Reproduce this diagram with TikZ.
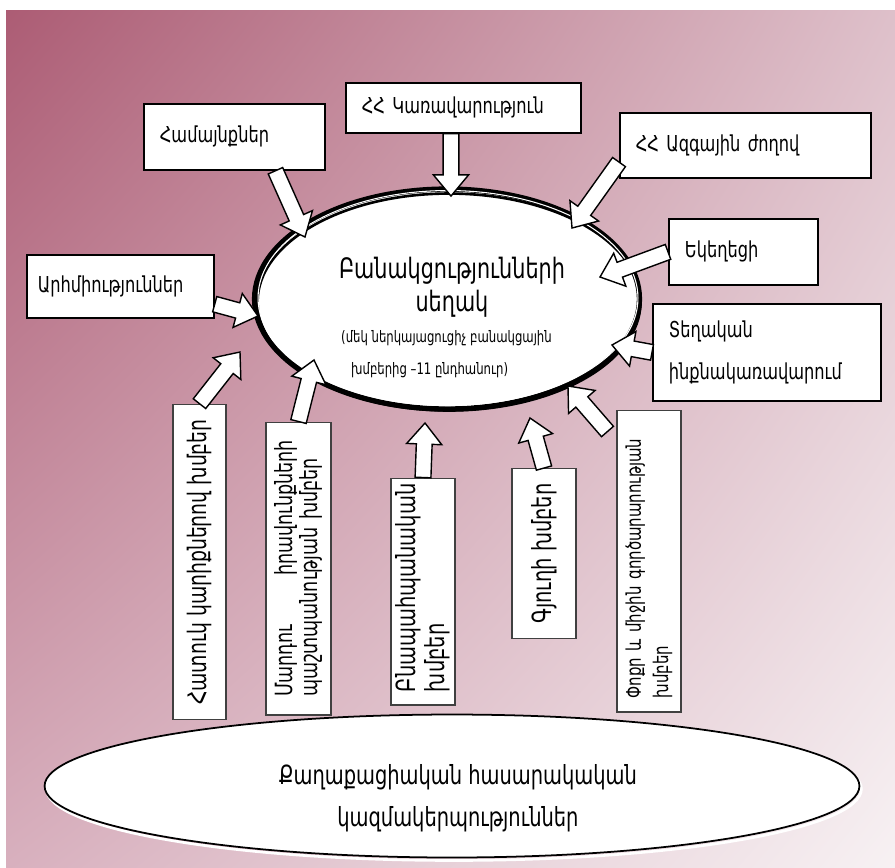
\documentclass[tikz,border=0pt]{standalone}
\usepackage{fontspec}
\setmainfont{DejaVu Sans Condensed}[FakeStretch=0.82]
\usetikzlibrary{shapes.geometric,calc,shadings}

\definecolor{bgtl}{RGB}{172,92,116}
\definecolor{bgtr}{RGB}{222,192,202}
\definecolor{bgbl}{RGB}{216,176,190}
\definecolor{bgbr}{RGB}{247,241,243}

\tikzset{
  hbox/.style={draw, fill=white, line width=1pt, anchor=north west, align=left,
    inner xsep=0.32cm, inner ysep=0pt, font=\fontsize{12.5}{24}\selectfont},
  vbox/.style={draw=black!75, fill=white, line width=0.6pt, rotate=90,
    inner xsep=0.3cm, inner ysep=0pt, font=\fontsize{14.5}{16}\selectfont},
  arrowbody/.style={draw, fill=white, line width=0.8pt, line join=miter},
}
% white block arrow from #1 to #2
\newcommand\blockarrow[2]{%
  \coordinate (ah) at ($(#2)!12pt!(#1)$);
  \path[arrowbody] ($(#1)!4.5pt!90:(#2)$) -- ($(ah)!4.5pt!90:(#2)$)
    -- ($(ah)!10pt!90:(#2)$) -- (#2) -- ($(ah)!10pt!-90:(#2)$)
    -- ($(ah)!4.5pt!-90:(#2)$) -- ($(#1)!4.5pt!-90:(#2)$) -- cycle;}

\begin{document}
\begin{tikzpicture}[x=0.02cm, y=-0.02cm]
  \useasboundingbox (0,0) rectangle (895,867);
  \fill[white] (0,0) rectangle (895,867);
  \shade[upper left=bgtl, upper right=bgtr, lower left=bgbl, lower right=bgbr]
    (6,10) rectangle (895,867);

  % civil society
  \draw[white, line width=1.5pt] (454,789) ellipse [x radius=8.15cm, y radius=1.43cm];
  \node[ellipse, draw, fill=white, line width=1pt, minimum width=16.3cm,
    minimum height=2.86cm] (civil) at (452,786) {};
  \node[font=\fontsize{15}{24}\selectfont, align=center] (civtext) at (458,798)
    {Քաղաքացիական հասարակական\\կազմակերպություններ};

  % negotiation table
  \node[ellipse, fill=white, draw, line width=3pt, minimum width=7.7cm,
    minimum height=4.4cm] (negtable) at (447,299) {};
  \draw[line width=1.5pt] ([shift={(2,3)}]negtable.center)
    ellipse [x radius=3.83cm, y radius=2.17cm];
  \draw[white, line width=0.6pt] ([shift={(1,-1)}]negtable.center)
    ellipse [x radius=3.8cm, y radius=2.15cm];
  \node[font=\fontsize{16}{19}\selectfont, align=center] (title) at (452,287)
    {Բանակցությունների\\սեղակ};
  \node[font=\fontsize{9}{11}\selectfont, anchor=west] (sub1) at (335,338)
    {(մեկ ներկայացուցիչ բանակցային};
  \node[font=\fontsize{9}{11}\selectfont, anchor=west] (sub2) at (345,370)
    {խմբերից –11 ընդհանուր)};

  % upper boxes
  \node[hbox, text width=2.98cm, minimum height=1.32cm] (hamaynk) at (143,103) {Համայնքներ};
  \node[hbox, text width=4.06cm, minimum height=1.0cm] (kar) at (345,82) {ՀՀ Կառավարություն};
  \node[hbox, text width=4.38cm, minimum height=1.3cm] (azg) at (619,112) {ՀՀ Ազգային ժողով};
  \node[hbox, text width=3.30cm, inner xsep=0.22cm, minimum height=1.26cm] (arh) at (26,254) {Արհմիություններ};
  \node[hbox, text width=2.34cm, minimum height=1.32cm] (ekeg) at (668,218) {Եկեղեցի};
  \node[hbox, text width=3.92cm, minimum height=1.94cm] (teg) at (652,303)
    {Տեղական\\ինքնակառավարում};

  % lower boxes
  \node[vbox, align=center, minimum width=6.04cm, minimum height=1.06cm] (vbA)
    at (199.5,562) {Հատուկ կարիքներով խմբեր};
  \node[vbox, align=left, text width=5.14cm, inner xsep=0.36cm, minimum width=5.86cm,
    minimum height=1.3cm, font=\fontsize{13.5}{10.5}\selectfont] (vbB)
    at (298.5,568.5) {Մարդու\hfill իրավունքների\\պաշտպանության խմբեր};
  \node[vbox, align=left, text width=4.02cm, inner xsep=0.26cm, minimum width=4.54cm,
    minimum height=1.28cm, font=\fontsize{15}{16.5}\selectfont] (vbC)
    at (423,591.5) {Բնապահպանական\\խմբեր};
  \node[vbox, align=center, minimum width=3.02cm, minimum height=1.28cm,
    font=\fontsize{15}{16}\selectfont] (vbD) at (544,553.5) {Գյուղի խմբեր};
  \node[vbox, align=left, text width=5.5cm, inner xsep=0.27cm, minimum width=6.04cm,
    minimum height=1.28cm, font=\fontsize{11.5}{15.5}\selectfont] (vbE)
    at (649,561) {Փոքր և միջին գործարարության\\խմբեր};

  % arrow tails at the boxes
  \coordinate (sHam) at ($(hamaynk.south)!0.45!(hamaynk.south east)$);
  \coordinate (sAzg) at ($(azg.west)!0.5!(azg.south west)$);
  \coordinate (sArh) at ($(arh.east)!0.55!(arh.south east)$);
  \coordinate (sE) at ($(vbE.north east)+(-9,22)$);
  % arrow tips on the table
  \coordinate (tHam) at (305,237);
  \coordinate (tKar) at (451,196);
  \coordinate (sKar) at (kar.south -| tKar);
  \coordinate (tAzg) at (572,228);
  \coordinate (tEkeg) at (600,277);
  \coordinate (tTeg) at (612,345);
  \coordinate (tArh) at (258,316);
  \coordinate (tA) at (240,352);
  \coordinate (tB) at (314,360);
  \coordinate (tC) at (425,423);
  \coordinate (tD) at (530,418);
  \coordinate (tE) at (568,386);

  \blockarrow{sHam}{tHam}
  \blockarrow{sKar}{tKar}
  \blockarrow{sAzg}{tAzg}
  \blockarrow{ekeg.west}{tEkeg}
  \blockarrow{teg.west}{tTeg}
  \blockarrow{sArh}{tArh}
  \blockarrow{vbA.east}{tA}
  \blockarrow{vbB.east}{tB}
  \blockarrow{vbC.east}{tC}
  \blockarrow{vbD.east}{tD}
  \blockarrow{sE}{tE}
\end{tikzpicture}
\end{document}
